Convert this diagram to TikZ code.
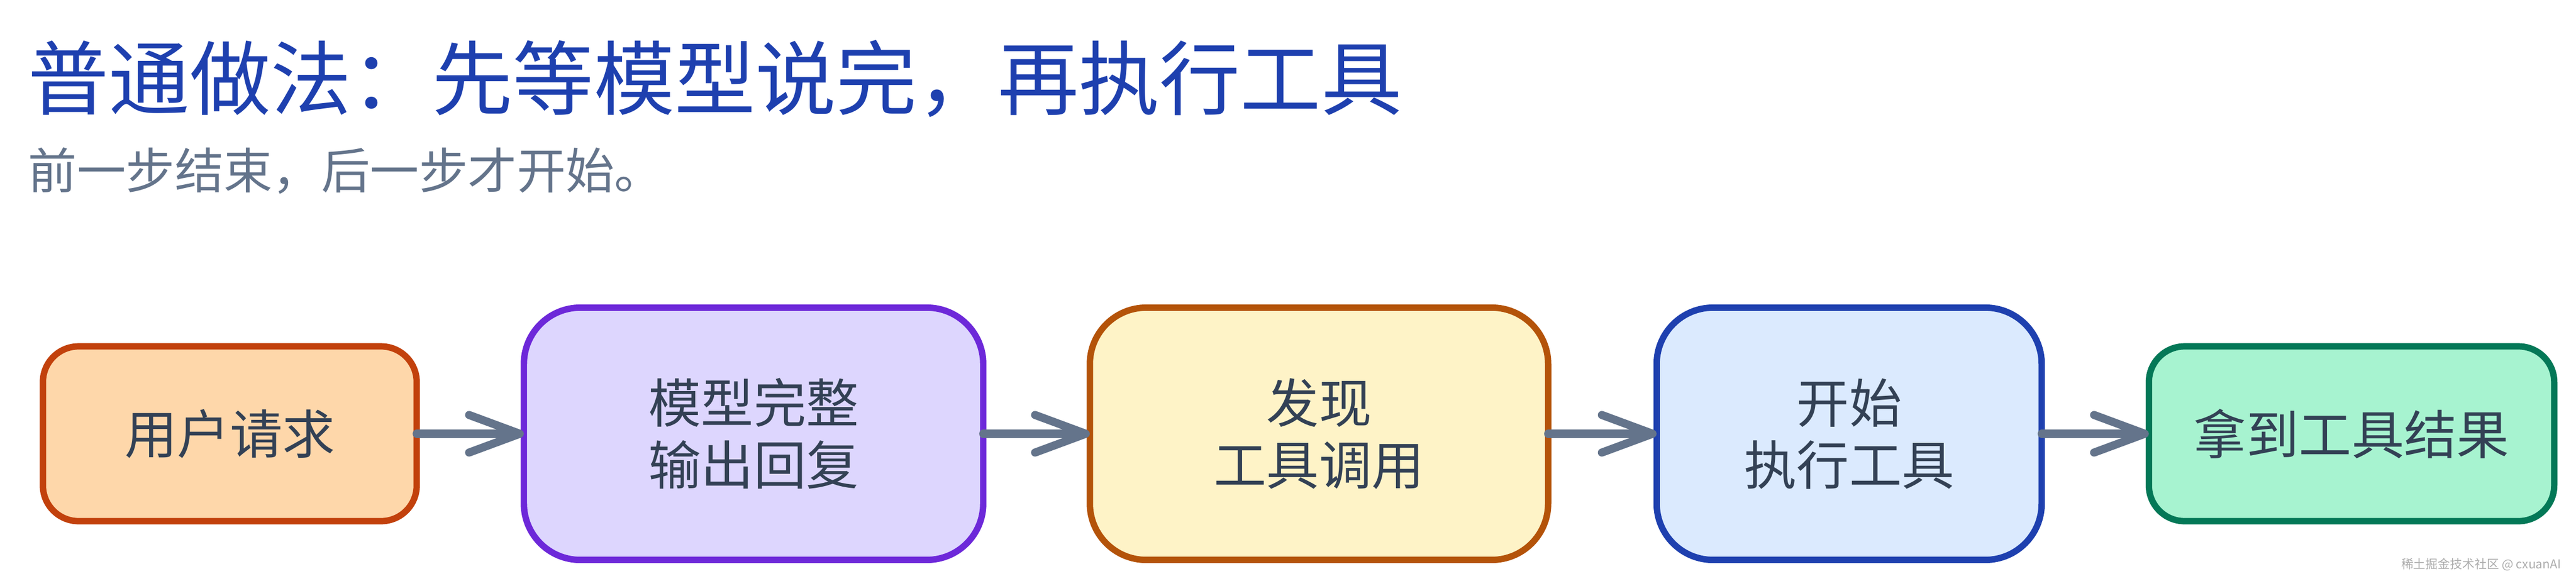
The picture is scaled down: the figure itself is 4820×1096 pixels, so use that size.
\documentclass[tikz,border=0pt]{standalone}
\usepackage{fontspec}
\newfontfamily\cjk{Noto Sans CJK SC}
\usetikzlibrary{arrows.meta}

\definecolor{titleblue}{HTML}{1E40AF}
\definecolor{subgray}{HTML}{64748B}
\definecolor{textdark}{HTML}{334155}
\definecolor{reqfill}{HTML}{FED7AA}
\definecolor{reqline}{HTML}{C2410C}
\definecolor{modelfill}{HTML}{DDD6FE}
\definecolor{modelline}{HTML}{6D28D9}
\definecolor{findfill}{HTML}{FEF3C7}
\definecolor{findline}{HTML}{B45309}
\definecolor{runfill}{HTML}{DBEAFE}
\definecolor{runline}{HTML}{1E40AF}
\definecolor{gotfill}{HTML}{A7F3D0}
\definecolor{gotline}{HTML}{047857}

\begin{document}
\begin{tikzpicture}[x=0.01cm, y=-0.01cm,
    stepbox/.style={draw, line width=3.4pt, rounded corners=19pt,
        inner sep=0pt, outer sep=0pt, align=center, text=textdark,
        font=\cjk\fontsize{28}{33}\selectfont, minimum height=3.27cm},
    tallbox/.style={stepbox, rounded corners=30pt, minimum height=4.72cm},
    flow/.style={draw=subgray, line width=4.3pt, line cap=round,
        -{Straight Barb[length=27pt, width=20pt, round]}}]
    \useasboundingbox (0,0) rectangle (4820,1096);

    % Title and subtitle
    \node[anchor=base west, inner sep=0pt, text=titleblue,
        font=\cjk\fontsize{43}{52}\selectfont] (title) at (52,203)
        {普通做法：先等模型说完，再执行工具};
    \node[anchor=base west, inner sep=0pt, text=subgray,
        font=\cjk\fontsize{26}{31}\selectfont] (sub) at (52,353)
        {前一步结束，后一步才开始。};

    % The five steps
    \node[stepbox, fill=reqfill, draw=reqline, minimum width=6.99cm] (req) at (430,812) {用户请求};
    \node[tallbox, fill=modelfill, draw=modelline, minimum width=8.59cm] (model) at (1410,812) {模型完整\\输出回复};
    \node[tallbox, fill=findfill, draw=findline, minimum width=8.57cm] (find) at (2468,812) {发现\\工具调用};
    \node[tallbox, fill=runfill, draw=runline, minimum width=7.20cm] (run) at (3460,812) {开始\\执行工具};
    \node[stepbox, fill=gotfill, draw=gotline, minimum width=7.58cm] (got) at (4400,812) {拿到工具结果};

    % Arrows between the steps
    \draw[flow] (req.east) -- (model.west);
    \draw[flow] (model.east) -- (find.west);
    \draw[flow] (find.east) -- (run.west);
    \draw[flow] (run.east) -- (got.west);

    % Watermark
    \node[anchor=base east, inner sep=0pt, text=gray!65,
        font=\cjk\fontsize{6.5}{8}\selectfont] (mark) at (4793,1064)
        {稀土掘金技术社区 @ cxuanAI};
\end{tikzpicture}
\end{document}
